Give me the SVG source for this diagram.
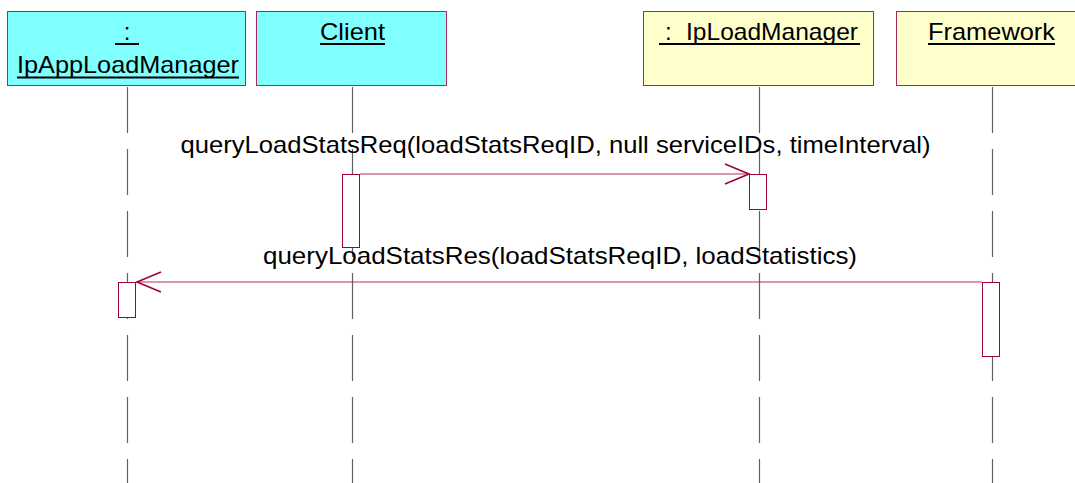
<svg xmlns="http://www.w3.org/2000/svg" width="1075" height="483" viewBox="0 0 1075 483">
<style>
  .hdr { stroke: #a8285a; stroke-width: 1; }
  .cyan { fill: #80ffff; }
  .yellow { fill: #ffffcc; }
  .lbl { font-family: "Liberation Sans", Arial, sans-serif; font-size: 24px; fill: #000; }
  .ul { stroke: #000; stroke-width: 2; }
  .life { stroke: #606060; stroke-width: 1.2; stroke-dasharray: 46 16; fill: none; }
  .act { fill: #fff; stroke: #a0003c; stroke-width: 1; }
  .msg { stroke: #b0305e; stroke-width: 1.2; fill: none; }
  .head { stroke: #a0003c; stroke-width: 1.6; fill: none; }
</style>
<rect width="1075" height="483" fill="#fff"/>

<g id="lifelines">
  <line class="life" x1="127.5" y1="87" x2="127.5" y2="483"/>
  <line class="life" x1="352.5" y1="87" x2="352.5" y2="483"/>
  <line class="life" x1="759.5" y1="87" x2="759.5" y2="483"/>
  <line class="life" x1="992.5" y1="87" x2="992.5" y2="483"/>
</g>

<g id="node-ipapploadmanager">
  <rect class="hdr cyan" x="7.5" y="11.5" width="238" height="74"/>
  <text class="lbl" x="127" y="40" text-anchor="middle">:</text>
  <line class="ul" x1="115" y1="44" x2="139" y2="44"/>
  <text class="lbl" x="17" y="73" textLength="222" lengthAdjust="spacingAndGlyphs">IpAppLoadManager</text>
  <line class="ul" x1="17" y1="77.5" x2="239" y2="77.5"/>
</g>

<g id="node-client">
  <rect class="hdr cyan" x="256.5" y="11.5" width="190" height="74"/>
  <text class="lbl" x="320" y="40" textLength="65" lengthAdjust="spacingAndGlyphs">Client</text>
  <line class="ul" x1="320" y1="44" x2="385" y2="44"/>
</g>

<g id="node-iploadmanager">
  <rect class="hdr yellow" x="643.5" y="11.5" width="230" height="74"/>
  <text class="lbl" x="665" y="40">:</text>
  <text class="lbl" x="686" y="40" textLength="172" lengthAdjust="spacingAndGlyphs">IpLoadManager</text>
  <line class="ul" x1="659" y1="44" x2="860" y2="44"/>
</g>

<g id="node-framework">
  <rect class="hdr yellow" x="896.5" y="11.5" width="192" height="74"/>
  <text class="lbl" x="928" y="40" textLength="127" lengthAdjust="spacingAndGlyphs">Framework</text>
  <line class="ul" x1="928" y1="44" x2="1055" y2="44"/>
</g>

<g id="activations">
  <rect class="act" x="342.5" y="174.5" width="17" height="73"/>
  <rect class="act" x="749.5" y="174.5" width="17" height="35"/>
  <rect class="act" x="118.5" y="282.5" width="17" height="35"/>
  <rect class="act" x="982.5" y="282.5" width="17" height="74"/>
</g>

<g id="connectors">
  <line class="msg" x1="360" y1="174" x2="749" y2="174"/>
  <polyline class="head" points="725,164 749,174 725,184"/>
  <text class="lbl" x="180.5" y="153" textLength="750" lengthAdjust="spacingAndGlyphs">queryLoadStatsReq(loadStatsReqID, null serviceIDs, timeInterval)</text>

  <line class="msg" x1="982" y1="282" x2="136" y2="282"/>
  <polyline class="head" points="161,272 137,282 161,292"/>
  <text class="lbl" x="263" y="264" textLength="594" lengthAdjust="spacingAndGlyphs">queryLoadStatsRes(loadStatsReqID, loadStatistics)</text>
</g>
</svg>
